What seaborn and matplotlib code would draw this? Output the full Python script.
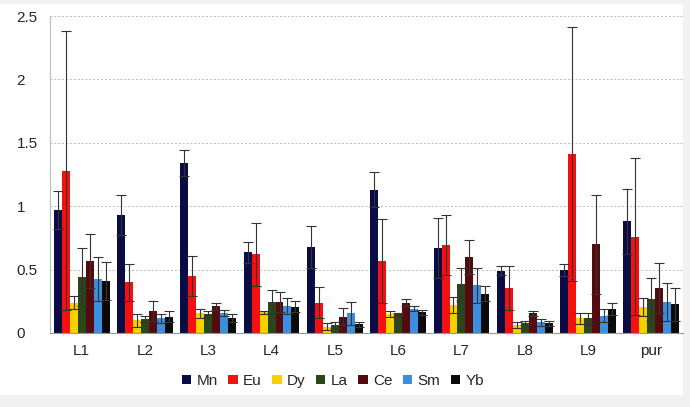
import numpy as np
import pandas as pd
import seaborn as sns
import matplotlib.pyplot as plt
from matplotlib.patches import Rectangle, Patch

# groups and elements
groups = ['L1', 'L2', 'L3', 'L4', 'L5', 'L6', 'L7', 'L8', 'L9', 'pur']
elements = ['Mn', 'Eu', 'Dy', 'La', 'Ce', 'Sm', 'Yb']
colors = ['#0b0c45', '#f51010', '#f7d000', '#2b461b', '#550b0d', '#3a8fe0', '#0a0a0a']

# mean values per element (one value per group)
mn = [0.97, 0.93, 1.34, 0.635, 0.68, 1.13, 0.67, 0.49, 0.50, 0.88]
eu = [1.28, 0.40, 0.45, 0.62, 0.24, 0.57, 0.695, 0.355, 1.41, 0.76]
dy = [0.24, 0.10, 0.155, 0.163, 0.05, 0.152, 0.22, 0.063, 0.115, 0.205]
la = [0.44, 0.11, 0.15, 0.247, 0.063, 0.147, 0.383, 0.076, 0.115, 0.265]
ce = [0.567, 0.175, 0.21, 0.244, 0.13, 0.24, 0.60, 0.155, 0.70, 0.354]
sm = [0.425, 0.115, 0.16, 0.213, 0.155, 0.19, 0.375, 0.084, 0.136, 0.244]
yb = [0.41, 0.13, 0.12, 0.207, 0.068, 0.163, 0.31, 0.076, 0.186, 0.226]

# error (symmetric) per element
mn_err = [0.15, 0.16, 0.10, 0.085, 0.165, 0.14, 0.24, 0.035, 0.047, 0.254]
eu_err = [1.10, 0.145, 0.16, 0.25, 0.12, 0.33, 0.235, 0.175, 1.00, 0.62]
dy_err = [0.05, 0.05, 0.035, 0.01, 0.025, 0.025, 0.065, 0.025, 0.045, 0.07]
la_err = [0.23, 0.025, 0.02, 0.09, 0.025, 0.01, 0.13, 0.015, 0.045, 0.17]
ce_err = [0.21, 0.08, 0.03, 0.08, 0.07, 0.025, 0.135, 0.02, 0.39, 0.20]
sm_err = [0.175, 0.035, 0.025, 0.06, 0.09, 0.02, 0.135, 0.025, 0.05, 0.15]
yb_err = [0.15, 0.04, 0.03, 0.045, 0.02, 0.02, 0.06, 0.02, 0.047, 0.13]

values = [mn, eu, dy, la, ce, sm, yb]
errors = [mn_err, eu_err, dy_err, la_err, ce_err, sm_err, yb_err]

rows = []
for el, vals in zip(elements, values):
    for g, v in zip(groups, vals):
        rows.append({'group': g, 'element': el, 'value': v})
df = pd.DataFrame(rows)

sns.set_style('white')
plt.rcParams['font.family'] = ['Liberation Sans', 'DejaVu Sans']

fig = plt.figure(figsize=(6.9, 4.07), dpi=100, facecolor='#f1f1f1')
fig.patches.append(Rectangle((0, 12 / 407), 683 / 690, 391 / 407, transform=fig.transFigure,
                             facecolor='white', edgecolor='none', zorder=-10))
ax = fig.add_axes([50 / 690, 74 / 407, 633 / 690, 317 / 407])
ax.set_facecolor('none')

sns.barplot(data=df, x='group', y='value', hue='element', order=groups, hue_order=elements,
            palette=colors, errorbar=None, width=0.88, gap=0, saturation=1, ax=ax,
            edgecolor='none', zorder=2)

# error bars on top of each bar
for cont, err in zip(ax.containers, errors):
    xs = [b.get_x() + b.get_width() / 2 for b in cont]
    ys = [b.get_height() for b in cont]
    ax.errorbar(xs, ys, yerr=err, fmt='none', ecolor='#333333', elinewidth=0.8,
                capsize=3.5, capthick=0.8, zorder=3)

ax.set_ylim(0, 2.5)
ax.set_xlim(-0.5, len(groups) - 0.5)
ax.set_yticks(np.arange(0, 2.51, 0.5))
ax.set_yticklabels(['0', '0.5', '1', '1.5', '2', '2.5'])
ax.yaxis.grid(True, color='#bbbbbb', linestyle=(0, (2, 2)), linewidth=0.7)
ax.set_axisbelow(True)
ax.tick_params(axis='y', length=0, labelsize=11, pad=24)
for lbl in ax.get_yticklabels():
    lbl.set_horizontalalignment('left')

ax.set_xticks(np.arange(-0.5, len(groups)), minor=True)
ax.tick_params(axis='x', which='minor', length=5, color='#aaaaaa')
ax.tick_params(axis='x', which='major', length=0, labelsize=11, pad=8)

for s in ['top', 'right']:
    ax.spines[s].set_visible(False)
ax.spines['left'].set_color('#bbbbbb')
ax.spines['bottom'].set_color('#999999')
ax.set_xlabel('')
ax.set_ylabel('')
ax.get_legend().remove()

handles = [Patch(facecolor=c, edgecolor='none') for c in colors]
fig.legend(handles, elements, loc='center', bbox_to_anchor=(333 / 690, 1 - 381 / 407), ncol=7,
           frameon=False, fontsize=11, handlelength=0.6, handleheight=0.6,
           handletextpad=0.35, columnspacing=0.7)

fig.savefig('out.png', dpi=100, facecolor=fig.get_facecolor())
